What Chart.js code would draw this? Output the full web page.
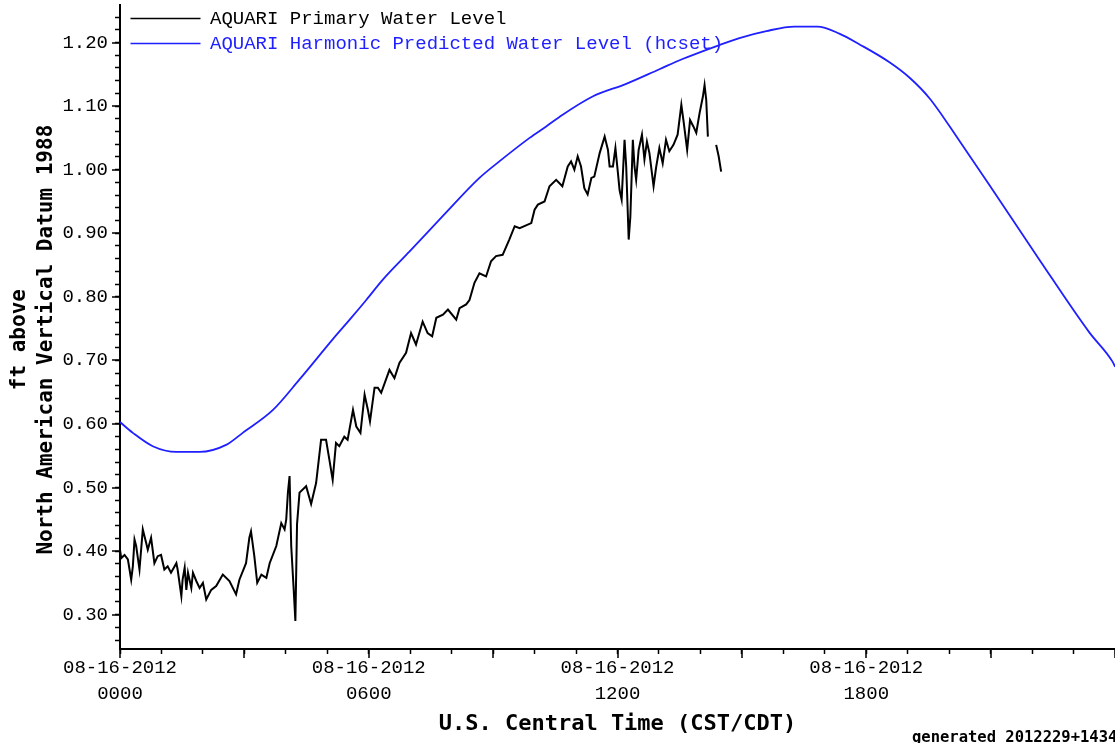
<!DOCTYPE html>
<html>
<head>
<meta charset="utf-8">
<title>AQUARI Water Level</title>
<script src="https://cdn.jsdelivr.net/npm/chart.js@4.4.1/dist/chart.umd.min.js"></script>
<style>
    html, body { margin: 0; padding: 0; background: #fff; }
    #wrap { position: relative; width: 1115px; height: 743px; overflow: hidden; }
    #note {
        position: absolute; left: 912px; top: 728px; white-space: nowrap;
        font: bold 15.5px "DejaVu Sans Mono", monospace; color: #000;
    }
</style>
</head>
<body>
<div id="wrap">
    <canvas id="waterChart" width="1115" height="743"></canvas>
    <div id="note">generated 2012229+1434</div>
</div>
<script>
// hours after 0000 CST/CDT on 08-16-2012
var primaryHours = [
    0.00, 0.03, 0.11, 0.19, 0.23, 0.27, 0.31, 0.35, 0.39, 0.47, 0.55, 0.63, 0.67, 0.75, 0.83, 0.91,
    0.99, 1.07, 1.15, 1.23, 1.36, 1.39, 1.48, 1.51, 1.56, 1.60, 1.64, 1.72, 1.76, 1.84, 1.92, 2.00,
    2.08, 2.20, 2.32, 2.48, 2.64, 2.80, 2.88, 3.04, 3.12, 3.16, 3.24, 3.31, 3.41, 3.53, 3.61, 3.77,
    3.89, 3.97, 4.01, 4.05, 4.09, 4.13, 4.19, 4.23, 4.27, 4.33, 4.49, 4.61, 4.73, 4.85, 4.97, 5.05,
    5.13, 5.21, 5.29, 5.41, 5.49, 5.62, 5.70, 5.80, 5.90, 5.98, 6.03, 6.14, 6.22, 6.30, 6.50, 6.62,
    6.74, 6.90, 7.02, 7.14, 7.30, 7.42, 7.53, 7.63, 7.79, 7.91, 8.11, 8.19, 8.35, 8.43, 8.55, 8.67,
    8.83, 8.95, 9.07, 9.23, 9.39, 9.52, 9.64, 9.92, 10.00, 10.08, 10.24, 10.36, 10.52, 10.67, 10.80, 10.88,
    10.96, 11.04, 11.12, 11.20, 11.28, 11.37, 11.44, 11.57, 11.69, 11.77, 11.81, 11.89, 11.95, 12.01, 12.05, 12.10,
    12.17, 12.21, 12.27, 12.31, 12.37, 12.41, 12.45, 12.51, 12.59, 12.65, 12.71, 12.77, 12.87, 12.93, 13.01, 13.09,
    13.17, 13.25, 13.35, 13.45, 13.54, 13.59, 13.68, 13.75, 13.83, 13.90, 13.98, 14.06, 14.10, 14.14, 14.18, 14.28,
    14.38, 14.44, 14.50
];
var primaryLevels = [
    0.402, 0.389, 0.394, 0.387, 0.371, 0.355, 0.376, 0.418, 0.408, 0.371, 0.434, 0.413, 0.402, 0.421, 0.381, 0.392,
    0.394, 0.371, 0.376, 0.366, 0.381, 0.371, 0.329, 0.355, 0.374, 0.339, 0.366, 0.342, 0.366, 0.353, 0.342, 0.350,
    0.324, 0.339, 0.345, 0.363, 0.353, 0.332, 0.355, 0.381, 0.421, 0.431, 0.392, 0.350, 0.363, 0.358, 0.381, 0.408,
    0.444, 0.434, 0.450, 0.492, 0.518, 0.408, 0.339, 0.290, 0.442, 0.492, 0.502, 0.474, 0.507, 0.575, 0.575, 0.544,
    0.512, 0.570, 0.565, 0.580, 0.575, 0.622, 0.596, 0.586, 0.646, 0.622, 0.604, 0.657, 0.657, 0.649, 0.685, 0.672,
    0.696, 0.712, 0.743, 0.725, 0.761, 0.743, 0.738, 0.767, 0.772, 0.780, 0.764, 0.782, 0.788, 0.795, 0.822, 0.837,
    0.832, 0.856, 0.864, 0.866, 0.890, 0.911, 0.908, 0.916, 0.937, 0.945, 0.950, 0.974, 0.984, 0.974, 1.005, 1.013,
    1.000, 1.021, 1.005, 0.971, 0.961, 0.987, 0.989, 1.026, 1.052, 1.031, 1.005, 1.005, 1.034, 0.995, 0.968, 0.953,
    1.047, 1.005, 0.890, 0.926, 1.047, 1.005, 0.984, 1.031, 1.055, 1.016, 1.044, 1.026, 0.974, 1.003, 1.034, 1.010,
    1.047, 1.029, 1.039, 1.055, 1.102, 1.078, 1.031, 1.078, 1.068, 1.058, 1.089, 1.115, 1.133, 1.110, 1.052, null,
    1.039, 1.021, 0.997
];

var predictedHours = [
    0.00, 0.31, 0.79, 1.36, 1.92, 2.56, 2.96, 3.69, 4.33, 5.13, 5.54, 5.94, 6.34, 6.98, 7.80, 8.67,
    9.15, 9.88, 10.28, 10.60, 11.40, 12.21, 13.01, 13.57, 14.46, 14.94, 15.59, 16.27, 16.82, 17.35, 17.84, 18.56,
    19.04, 19.53, 20.25, 20.97, 22.18, 23.38, 23.94, 24.00
];
var predictedLevels = [
    0.603, 0.586, 0.565, 0.556, 0.556, 0.567, 0.586, 0.622, 0.670, 0.733, 0.764, 0.795, 0.827, 0.871, 0.928, 0.987,
    1.013, 1.050, 1.068, 1.083, 1.115, 1.135, 1.158, 1.174, 1.196, 1.207, 1.218, 1.225, 1.225, 1.214, 1.197, 1.169,
    1.145, 1.112, 1.045, 0.976, 0.858, 0.744, 0.698, 0.690
];

var xLabelHours = [0, 6, 12, 18];
var xLabelDates = ['08-16-2012', '08-16-2012', '08-16-2012', '08-16-2012'];
var xLabelTimes = ['0000', '0600', '1200', '1800'];
var xMajorHours = [0, 3, 6, 9, 12, 15, 18, 21, 24];
var yLabelValues = [0.30, 0.40, 0.50, 0.60, 0.70, 0.80, 0.90, 1.00, 1.10, 1.20];

var seriesNames = ['AQUARI Primary Water Level', 'AQUARI Harmonic Predicted Water Level (hcset)'];
var seriesColors = ['#000000', '#1f1fff'];

function toPoints(xs, ys) {
    return xs.map(function (h, i) {
        return {x: h, y: ys[i]};
    });
}

function yMinorTicks() {
    var ticks = [];
    for (var k = 13; k <= 62; k++) {
        ticks.push({value: Math.round(k * 2) / 100});
    }
    return ticks;
}

// longer marks at the labelled ticks, plus nudge the legend into place
var axisMarks = {
    id: 'axisMarks',
    afterLayout: function (chart) {
        chart.legend.left += 4.5;
        chart.legend.top += 3;
    },
    afterDraw: function (chart) {
        var ctx = chart.ctx, area = chart.chartArea;
        var x = chart.scales.x, y = chart.scales.y;
        ctx.save();
        ctx.strokeStyle = '#000';
        ctx.lineWidth = 1.5;
        ctx.beginPath();
        xMajorHours.forEach(function (h) {
            var px = Math.round(x.getPixelForValue(h));
            ctx.moveTo(px, area.bottom);
            ctx.lineTo(px, area.bottom + 9);
        });
        yLabelValues.forEach(function (v) {
            var py = Math.round(y.getPixelForValue(v));
            ctx.moveTo(area.left, py);
            ctx.lineTo(area.left - 8, py);
        });
        ctx.stroke();
        ctx.restore();
    }
};

var ctx = document.getElementById('waterChart').getContext('2d');
new Chart(ctx, {
    type: 'line',
    data: {
        datasets: [{
            label: seriesNames[0],
            data: toPoints(primaryHours, primaryLevels),
            borderColor: seriesColors[0],
            borderWidth: 2,
            pointRadius: 0,
            tension: 0,
            spanGaps: false
        }, {
            label: seriesNames[1],
            data: toPoints(predictedHours, predictedLevels),
            borderColor: seriesColors[1],
            borderWidth: 1.8,
            pointRadius: 0,
            cubicInterpolationMode: 'monotone'
        }]
    },
    options: {
        responsive: false,
        animation: false,
        events: [],
        layout: {padding: {top: 5, right: 0, left: 0, bottom: 0}},
        plugins: {
            tooltip: {enabled: false},
            legend: {
                position: 'chartArea',
                align: 'start',
                labels: {
                    usePointStyle: true,
                    pointStyleWidth: 70,
                    padding: 6,
                    font: {family: 'Liberation Mono', size: 19},
                    generateLabels: function (chart) {
                        return chart.data.datasets.map(function (ds, i) {
                            return {
                                text: ds.label,
                                fillStyle: seriesColors[i],
                                strokeStyle: seriesColors[i],
                                fontColor: seriesColors[i],
                                lineWidth: 1.5,
                                pointStyle: 'line',
                                hidden: false,
                                datasetIndex: i
                            };
                        });
                    }
                }
            }
        },
        scales: {
            x: {
                type: 'linear',
                min: 0,
                max: 24,
                border: {display: true, color: '#000', width: 2},
                grid: {drawOnChartArea: false, color: '#000', tickLength: 5, tickWidth: 1.5},
                ticks: {
                    stepSize: 1,
                    autoSkip: false,
                    maxRotation: 0,
                    padding: 1,
                    color: '#000',
                    font: {family: 'Liberation Mono', size: 19, lineHeight: 1.35},
                    callback: function (value) {
                        var i = xLabelHours.indexOf(value);
                        return i < 0 ? '' : [xLabelDates[i], xLabelTimes[i]];
                    }
                },
                title: {
                    display: true,
                    text: 'U.S. Central Time (CST/CDT)',
                    color: '#000',
                    font: {family: 'DejaVu Sans Mono', size: 22, weight: 'bold', lineHeight: 1.2},
                    padding: {top: 0, bottom: 6}
                },
                afterFit: function (scale) {
                    scale.height = 94;
                    scale.paddingRight = 0;
                }
            },
            y: {
                min: 0.246,
                max: 1.259,
                border: {display: true, color: '#000', width: 2},
                grid: {drawOnChartArea: false, color: '#000', tickLength: 5, tickWidth: 1.5},
                afterBuildTicks: function (scale) {
                    scale.ticks = yMinorTicks();
                },
                ticks: {
                    autoSkip: false,
                    padding: 7,
                    color: '#000',
                    font: {family: 'Liberation Mono', size: 19},
                    callback: function (value) {
                        var isMajor = yLabelValues.some(function (v) {
                            return Math.abs(v - value) < 1e-6;
                        });
                        return isMajor ? value.toFixed(2) : '';
                    }
                },
                title: {
                    display: true,
                    text: ['ft above  ', 'North American Vertical Datum 1988  '],
                    color: '#000',
                    font: {family: 'DejaVu Sans Mono', size: 21, weight: 'bold', lineHeight: 1.3},
                    padding: {top: 6, bottom: 0}
                },
                afterFit: function (scale) {
                    scale.width = 120;
                    scale.paddingTop = 0;
                    scale.paddingBottom = 0;
                }
            }
        }
    },
    plugins: [axisMarks]
});
</script>
</body>
</html>
